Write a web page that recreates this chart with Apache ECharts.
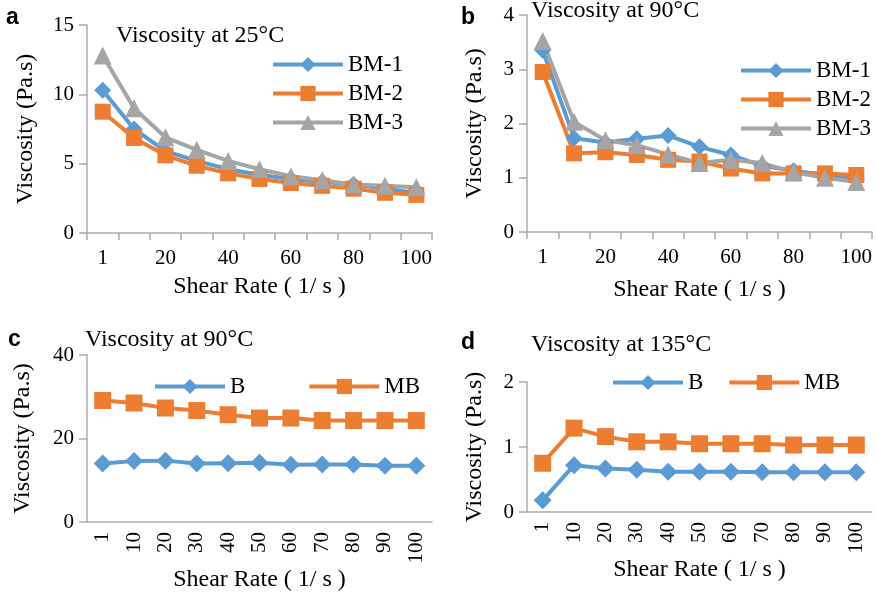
<!DOCTYPE html>
<html><head><meta charset="utf-8">
<script src="https://cdn.jsdelivr.net/npm/echarts@6/dist/echarts.min.js"></script>
<style>html,body{margin:0;padding:0;background:#fff}#c{width:877px;height:593px}</style>
</head><body><div id="c"></div>
<script>
const categories = ['1','10','20','30','40','50','60','70','80','90','100'];
const aBM1 = [10.3, 7.5, 5.9, 5.2, 4.6, 4.2, 3.9, 3.7, 3.5, 3.2, 2.9];
const aBM2 = [8.75, 6.85, 5.6, 4.85, 4.3, 3.9, 3.6, 3.4, 3.2, 2.9, 2.75];
const aBM3 = [12.8, 9.0, 6.9, 6.0, 5.2, 4.6, 4.1, 3.8, 3.5, 3.4, 3.3];
const bBM1 = [3.35, 1.73, 1.65, 1.72, 1.78, 1.57, 1.42, 1.22, 1.13, 1.05, 0.98];
const bBM2 = [2.95, 1.45, 1.47, 1.42, 1.33, 1.3, 1.17, 1.08, 1.08, 1.08, 1.05];
const bBM3 = [3.52, 2.03, 1.69, 1.6, 1.43, 1.27, 1.33, 1.27, 1.1, 1.0, 0.92];
const cB = [14.0, 14.6, 14.7, 14.0, 14.1, 14.2, 13.7, 13.8, 13.8, 13.5, 13.5];
const cMB = [29.1, 28.5, 27.3, 26.7, 25.7, 24.9, 24.9, 24.3, 24.3, 24.3, 24.3];
const dB = [0.18, 0.72, 0.67, 0.65, 0.62, 0.62, 0.62, 0.61, 0.61, 0.61, 0.61];
const dMB = [0.75, 1.29, 1.16, 1.08, 1.08, 1.05, 1.05, 1.05, 1.03, 1.03, 1.03];
const yMax = [15, 4, 40, 2];
const yStep = [5, 1, 20, 1];
const titles = ['Viscosity at 25°C', 'Viscosity at 90°C', 'Viscosity at 90°C', 'Viscosity at 135°C'];
const letters = ['a', 'b', 'c', 'd'];
const xName = 'Shear Rate ( 1/ s )';
const yName = 'Viscosity (Pa.s)';

const BLUE = '#5B9BD5', ORANGE = '#ED7D31', GRAY = '#A5A5A5';
const AX = '#ababab';
const FONT = 'Liberation Serif';
const chart = echarts.init(document.getElementById('c'), null, {renderer: 'canvas'});

const grids = [
  {left: 87, top: 25, width: 345, height: 208},
  {left: 527, top: 15, width: 345, height: 217},
  {left: 87, top: 355, width: 345, height: 167},
  {left: 527, top: 382, width: 345, height: 130}
];
const yNameGap = [49, 40, 52, 40];
const xNameGap = [42, 46, 42, 43];

const xAxes = grids.map((g, i) => ({
  type: 'category', gridIndex: i, data: categories, boundaryGap: true,
  name: xName, nameLocation: 'middle', nameGap: xNameGap[i],
  nameTextStyle: {fontFamily: FONT, fontSize: 24, color: '#000'},
  axisLine: {lineStyle: {color: AX, width: 1.5}},
  axisTick: {show: i < 2, interval: 0, length: 7, lineStyle: {color: AX, width: 1.5}},
  axisLabel: i < 2
    ? {interval: 1, fontFamily: FONT, fontSize: 21, color: '#000', margin: 15}
    : {interval: 0, rotate: 90, fontFamily: FONT, fontSize: 21, color: '#000', margin: 10},
  splitLine: {show: false}
}));
const yAxes = grids.map((g, i) => ({
  type: 'value', gridIndex: i, min: 0, max: yMax[i], interval: yStep[i],
  name: yName, nameLocation: 'middle', nameGap: yNameGap[i],
  nameTextStyle: {fontFamily: FONT, fontSize: 24, color: '#000'},
  axisLine: {show: true, lineStyle: {color: AX, width: 1.5}},
  axisTick: {show: true, length: 8, lineStyle: {color: AX, width: 1.5}},
  axisLabel: {fontFamily: FONT, fontSize: 21, color: '#000', margin: 13},
  splitLine: {show: false}
}));

function line(name, data, idx, color, symbol, size) {
  return {
    type: 'line', name, data, xAxisIndex: idx, yAxisIndex: idx,
    symbol, symbolSize: size, showSymbol: true,
    lineStyle: {color, width: 4}, itemStyle: {color},
    emphasis: {disabled: true}, animation: false
  };
}

const series = [
  line('BM-1', aBM1, 0, BLUE, 'diamond', 17),
  line('BM-2', aBM2, 0, ORANGE, 'rect', 16),
  line('BM-3', aBM3, 0, GRAY, 'triangle', 18),
  line('BM-1', bBM1, 1, BLUE, 'diamond', 17),
  line('BM-2', bBM2, 1, ORANGE, 'rect', 16),
  line('BM-3', bBM3, 1, GRAY, 'triangle', 18),
  line('B', cB, 2, BLUE, 'diamond', 18),
  line('MB', cMB, 2, ORANGE, 'rect', 17),
  line('B', dB, 3, BLUE, 'diamond', 18),
  line('MB', dMB, 3, ORANGE, 'rect', 17)
];

const legText = {fontFamily: FONT, fontSize: 23, color: '#000', lineHeight: 29};
const legends = [
  {data: ['BM-1','BM-2','BM-3'], orient: 'vertical', left: 271, top: 50, itemGap: 0},
  {data: ['BM-1','BM-2','BM-3'], orient: 'vertical', left: 739, top: 56, itemGap: 0},
  {data: ['B','MB'], orient: 'horizontal', left: 153, top: 372, itemGap: 62},
  {data: ['B','MB'], orient: 'horizontal', left: 611, top: 368, itemGap: 24}
].map(l => Object.assign({itemWidth: 70, itemHeight: 19, textStyle: legText, selectedMode: false, padding: 0,
  lineStyle: {width: 4}}, l));

const titleCfg = [
  {text: titles[0], left: 116, top: 24},
  {text: titles[1], left: 531, top: -1},
  {text: titles[2], left: 85, top: 328},
  {text: titles[3], left: 531, top: 333}
].map(t => Object.assign({padding: 0, textStyle: {fontFamily: FONT, fontSize: 24, fontWeight: 'normal', color: '#000'}}, t));
const letterCfg = [
  {text: letters[0], left: 6, top: 6},
  {text: letters[1], left: 461, top: 6},
  {text: letters[2], left: 8, top: 328},
  {text: letters[3], left: 461, top: 331}
].map(t => Object.assign({padding: 0, textStyle: {fontFamily: 'Liberation Sans', fontSize: 23, fontWeight: 'bold', color: '#000'}}, t));

chart.setOption({
  backgroundColor: '#fff',
  animation: false,
  title: titleCfg.concat(letterCfg),
  legend: legends,
  grid: grids,
  xAxis: xAxes,
  yAxis: yAxes,
  series
});
</script></body></html>
